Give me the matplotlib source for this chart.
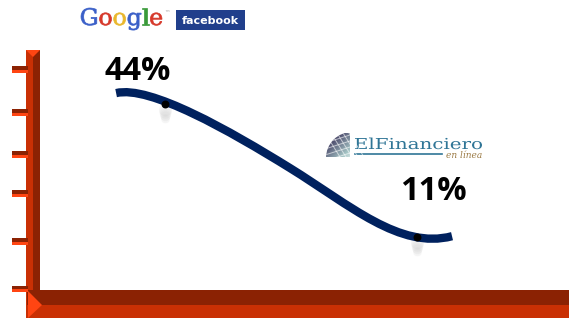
import numpy as np
import matplotlib.pyplot as plt
from matplotlib.patches import Rectangle, Polygon, Circle, PathPatch
from matplotlib.path import Path
from matplotlib.textpath import TextPath, TextToPath
from matplotlib.font_manager import FontProperties
from matplotlib.transforms import Affine2D, offset_copy

# labelled points: position on x (0 = first, 1 = second) and percent
point_x = [0.0, 1.0]
point_values = [44, 11]
point_labels = ["44%", "11%"]

# the curve as two cubic Bezier pieces (start, ctrl, ctrl, mid, ctrl, ctrl, end)
curve_x = [-0.194, -0.060, 0.258, 0.496, 0.734, 0.933, 1.139]
curve_values = [46.7, 48.7, 37.3, 28.1, 18.9, 7.8, 11.2]

# decorative tick marks on the y axis (percent)
tick_values = [-2.0, 9.8, 21.7, 31.3, 41.7, 52.4]

W, H = 569, 318
fig = plt.figure(figsize=(W / 100, H / 100), dpi=100)

# background axes in pixel units for the 3D frame and the logos
deco = fig.add_axes([0, 0, 1, 1])
deco.set_xlim(0, W)
deco.set_ylim(H, 0)
deco.axis('off')

# data axes laid over the same area
ax = fig.add_axes([0, 0, 1, 1])
ax.set_xlim(-0.6548, 1.6032)
ax.set_ylim(-9.10, 69.80)
ax.axis('off')
ax.patch.set_alpha(0)

orange = '#C93004'
dark = '#8B2203'
bright = '#FF4512'

# vertical axis bar
deco.add_patch(Rectangle((26, 50), 7.3, 268, color=orange, lw=0))
deco.add_patch(Rectangle((33.3, 50), 6.7, 240, color=dark, lw=0))
deco.add_patch(Polygon([(26, 50), (40, 50), (33, 57)], color=bright, lw=0))
# horizontal axis bar
deco.add_patch(Rectangle((27, 290), W - 27, 15, color=dark, lw=0))
deco.add_patch(Rectangle((27, 305), W - 27, 13, color=orange, lw=0))
deco.add_patch(Polygon([(28, 291), (28, 318), (42, 305)], color=bright, lw=0))

# ticks, placed in data units on y
ytr = ax.get_yaxis_transform()
for v in tick_values:
    ax.add_patch(Rectangle((12 / W, v), 16 / W, 0.95, transform=ytr,
                           color=dark, lw=0))
    ax.add_patch(Rectangle((12 / W, v - 0.75), 16 / W, 0.75, transform=ytr,
                           color=bright, lw=0))

# smooth curve
verts = np.column_stack([curve_x, curve_values])
codes = [Path.MOVETO] + [Path.CURVE4] * (len(verts) - 1)
ax.add_patch(PathPatch(Path(verts, codes), fill=False, edgecolor='#00215E',
                       lw=6, capstyle='butt', zorder=3))

# soft shadow under the markers
for k in range(8):
    sh = offset_copy(ax.transData, fig, x=0, y=-5 - 1.5 * k, units='dots')
    ax.scatter(point_x, point_values, s=90 - 8 * k, color='#A0A0A0',
               alpha=0.05, lw=0, transform=sh, zorder=2)
ax.scatter(point_x, point_values, s=22, color='black', zorder=4)

# value labels
label_offsets = [(-27, 24), (16, 37)]
for x, v, lab, off in zip(point_x, point_values, point_labels, label_offsets):
    ax.annotate(lab, (x, v), xytext=off, textcoords='offset pixels',
                ha='center', va='baseline', fontsize=23.5, fontweight='bold',
                family='Open Sans', color='black', zorder=5)


def text_in_box(s, prop, x0, x1, base, cap, color, axes):
    tp = TextPath((0, 0), s, size=1, prop=prop)
    ext = tp.get_extents()
    capref = TextPath((0, 0), 'E', size=1, prop=prop).get_extents().y1
    sx = (x1 - x0) / ext.width
    sy = cap / capref
    tr = Affine2D().translate(-ext.x0, 0).scale(sx, -sy).translate(x0, base)
    axes.add_patch(PathPatch(tr.transform_path(tp), color=color, lw=0))


# Google logo, one colour per letter
gprop = FontProperties(family='DejaVu Serif')
word = 'Google'
gcols = ['#3A5FC8', '#D6382A', '#E9B72C', '#3A5FC8', '#3A9A3A', '#D6382A']
ttp = TextToPath()
whole = TextPath((0, 0), word, size=1, prop=gprop).get_extents()
full_adv = ttp.get_text_width_height_descent(word, gprop, ismath=False)[0]
cap_g = TextPath((0, 0), 'G', size=1, prop=gprop).get_extents().y1
gx0, gx1, gbase, gcap = 81, 163, 25, 17
sx = (gx1 - gx0) / whole.width
sy = gcap / cap_g
for i, (ch, c) in enumerate(zip(word, gcols)):
    pre = ttp.get_text_width_height_descent(word[:i], gprop, ismath=False)[0] if i else 0
    adv = pre / full_adv * whole.x1
    tp = TextPath((0, 0), ch, size=1, prop=gprop)
    tr = Affine2D().translate(adv - whole.x0, 0).scale(sx, -sy).translate(gx0, gbase)
    deco.add_patch(PathPatch(tr.transform_path(tp), facecolor=c, edgecolor=c,
                             lw=0.5))
deco.text(164, 13, '\u2122', fontsize=4, color='#A0A0A0', ha='left', va='center')

# facebook logo
deco.add_patch(Rectangle((176, 10), 69, 20, color='#213F8C', lw=0))
deco.text(210.5, 20.5, 'facebook', color='white', fontsize=8, fontweight='bold',
          ha='center', va='center')

# El Financiero logo
grad = np.linspace(0, 1, 40)
gimg = np.add.outer(grad, grad)
im = deco.imshow(gimg, extent=(325, 350, 157, 133), cmap='bone', vmin=-0.3,
                 vmax=2.4, zorder=2, aspect='auto')
globe = Circle((352, 158), 26, transform=deco.transData)
im.set_clip_path(globe)
for k in range(5):
    deco.plot([325 + 6 * k, 340 + 6 * k], [133, 157], color='white', lw=0.7,
              alpha=0.6, clip_path=globe, zorder=3)
    deco.plot([325, 350], [137 + 6 * k, 129 + 6 * k], color='white', lw=0.7,
              alpha=0.6, clip_path=globe, zorder=3)
text_in_box('ElFinanciero', FontProperties(family='DejaVu Serif'),
            355, 482, 149, 11, '#2F7596', deco)
deco.plot([355, 442], [154, 154], color='#2F7596', lw=1.2)
deco.text(446, 158, 'en l\u00ednea', fontsize=6.5, style='italic',
          family='DejaVu Serif', color='#9C7B45', ha='left', va='baseline')

fig.savefig('out.png', dpi=100)
